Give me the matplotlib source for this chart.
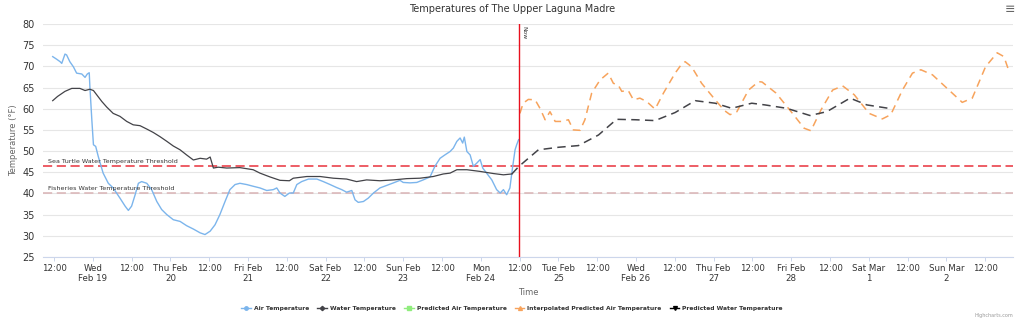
import numpy as np
import matplotlib
matplotlib.use("Agg")
import matplotlib.pyplot as plt
from matplotlib.lines import Line2D

plt.rcParams['font.family'] = ['DejaVu Sans']

start = np.datetime64("2025-02-18T00:00")

# hours after Feb 18 00:00, temperatures in °F
air_hours = [11.6, 12.8, 13.9, 14.4, 15.4, 15.9, 16.9, 18.0, 19.0, 20.6, 21.6, 22.3, 22.9, 23.1,
             23.7, 24.2, 24.9, 25.7, 27.2, 28.8, 30.3, 32.4, 34.0, 35.0, 36.0, 37.1, 38.1, 39.1,
             40.7, 42.2, 43.8, 45.3, 46.9, 48.9, 51.0, 53.0, 55.1, 57.2, 58.7, 60.3, 61.8, 63.3,
             64.9, 66.4, 68.0, 69.5, 71.6, 73.6, 75.7, 77.8, 79.8, 80.9, 81.9, 83.4, 84.8, 86.0,
             87.1, 88.6, 90.7, 93.3, 95.3, 97.4, 99.4, 101.0, 102.5, 104.1, 105.1, 106.1, 107.7,
             109.2, 110.8, 112.8, 114.9, 117.0, 119.0, 120.0, 122.1, 124.2, 126.2, 128.3, 129.8,
             131.4, 132.9, 134.5, 135.5, 136.6, 137.6, 138.4, 138.9, 139.7, 140.7, 141.7, 142.8,
             143.8, 144.6, 145.8, 147.4, 148.9, 150.0, 151.0, 152.0, 153.0, 153.8, 154.6, 155.1,
             155.7]
air_temp = [72.3, 71.7, 71.1, 70.7, 72.9, 72.7, 71.1, 69.9, 68.4, 68.2, 67.4, 68.2, 68.5, 65.2,
            57.4, 51.5, 51.1, 48.7, 44.8, 42.4, 41.3, 38.9, 37.0, 36.0, 37.0, 39.7, 42.4, 42.8,
            42.4, 40.9, 38.1, 36.2, 35.0, 33.8, 33.4, 32.4, 31.6, 30.7, 30.3, 31.1, 32.6, 35.0,
            38.1, 40.9, 42.1, 42.4, 42.1, 41.7, 41.3, 40.7, 40.9, 41.3, 40.1, 39.3, 40.1, 40.1,
            42.1, 42.8, 43.4, 43.4, 42.8, 42.1, 41.4, 40.9, 40.3, 40.7, 38.5, 37.9, 38.1,
            38.9, 40.1, 41.3, 41.9, 42.5, 43.1, 42.6, 42.5, 42.6, 43.2, 43.9, 46.4,
            48.3, 49.1, 49.9, 50.7, 52.3, 53.1, 51.9, 53.3, 49.9, 49.1, 46.4, 47.2,
            48.0, 46.0, 44.8, 43.2, 40.9, 40.1, 40.9, 39.7, 41.3, 46.0, 50.3, 51.5,
            52.7]

water_hours = [11.6, 13.1, 15.4, 17.5, 20.0, 21.6, 23.1, 24.2, 25.2, 26.8, 28.3, 30.3, 32.4, 34.5,
               36.5, 38.6, 40.7, 42.7, 44.8, 46.9, 48.9, 51.0, 53.0, 55.1, 57.2, 59.2, 60.3, 61.3,
               62.8, 65.4, 69.5, 73.6, 75.7, 78.8, 81.9, 84.8, 86.0, 90.2, 94.3, 98.4, 102.5,
               105.6, 108.7, 112.8, 117.0, 121.1, 125.2, 129.3, 132.4, 134.5, 136.6, 139.7,
               143.8, 147.9, 151.0, 153.6]
water_temp = [61.9, 62.9, 64.1, 64.8, 64.8, 64.3, 64.6, 64.3, 63.3, 61.7, 60.4, 58.9, 58.2, 57.0,
              56.2, 56.0, 55.2, 54.4, 53.4, 52.3, 51.2, 50.3, 49.1, 47.9, 48.3, 48.1, 48.6, 46.0,
              46.2, 46.0, 46.1, 45.6, 44.8, 43.9, 43.1, 43.0, 43.6, 44.0, 44.0, 43.6, 43.4,
              42.8, 43.2, 43.0, 43.2, 43.5, 43.6, 44.0, 44.6, 44.8, 45.6, 45.6,
              45.2, 44.7, 44.4, 44.6]

pred_water_hours = [153.6, 155.8, 161.8, 168.0, 174.2, 180.4, 186.0, 191.7, 197.9, 204.1, 210.3,
                    216.5, 221.6, 227.8, 231.9, 238.6, 245.8, 251.0, 258.2, 263.4, 270.1]
pred_water_temp = [44.6, 46.4, 50.3, 50.9, 51.3, 53.8, 57.5, 57.4, 57.2, 59.1, 61.9,
                   61.3, 60.1, 61.3, 60.9, 60.1, 58.4, 59.3, 62.5, 60.9, 60.1]

interp_air_hours = [156.1, 157.1, 158.7, 160.8, 162.3, 163.9, 165.4, 167.0, 169.0, 171.1, 172.6,
                    174.7, 176.2, 178.3, 180.9, 183.4, 185.0, 186.5, 187.6, 189.6, 191.2, 193.2,
                    195.3, 197.9, 200.5, 204.1, 205.8, 207.2, 209.2, 212.3, 216.5, 219.3, 221.1,
                    223.2, 226.8, 229.9, 231.0, 235.3, 240.4, 244.0, 246.1, 249.2, 252.8, 255.9,
                    259.5, 264.1, 268.2, 270.8, 274.4, 277.5, 280.1, 283.7, 288.8, 292.9, 296.0,
                    300.1, 303.7, 305.8, 307.2]
interp_air_temp = [58.9, 61.3, 62.2, 62.1, 60.1, 57.4, 59.3, 57.0, 57.0, 57.4, 55.0,
                   54.9, 57.4, 63.7, 66.8, 68.4, 66.0, 65.6, 64.1, 64.3, 62.1, 62.5,
                   61.7, 59.9, 63.7, 68.4, 70.2, 71.1, 69.9, 66.0, 62.1, 59.6, 58.6,
                   59.3, 64.4, 66.4, 66.3, 63.7, 58.9, 55.4, 54.8, 59.7, 64.4, 65.4,
                   63.3, 58.9, 57.6, 58.6, 64.4, 68.4, 69.2, 68.0, 64.4, 61.5, 62.5,
                   69.9, 73.2, 72.3, 69.2]

pred_air_hours = []
pred_air_temp = []

now_hours = 155.8
sea_turtle = 46.4
fisheries = 40.0

tick_labels = ["12:00", "Wed\nFeb 19", "12:00", "Thu Feb\n20", "12:00", "Fri Feb\n21", "12:00",
               "Sat Feb\n22", "12:00", "Sun Feb\n23", "12:00", "Mon\nFeb 24", "12:00",
               "Tue Feb\n25", "12:00", "Wed\nFeb 26", "12:00", "Thu Feb\n27", "12:00",
               "Fri Feb\n28", "12:00", "Sat Mar\n1", "12:00", "Sun Mar\n2", "12:00"]


def to_time(hours):
    mins = np.round(np.asarray(hours, dtype=float) * 60).astype(int)
    return start + mins.astype("timedelta64[m]")


fig = plt.figure(figsize=(10.24, 3.22), dpi=100)
ax = fig.add_axes([43 / 1024, 1 - 257 / 322, 970 / 1024, 233 / 322])

blue, dark, orange, green = "#7cb5ec", "#434348", "#f7a35c", "#90ed7d"

ax.plot(to_time(air_hours), air_temp, color=blue, lw=1.0, zorder=3)
ax.plot(to_time(water_hours), water_temp, color=dark, lw=0.9, zorder=3)
ax.plot(to_time(pred_air_hours), pred_air_temp, color=green, lw=1.0)
ax.plot(to_time(interp_air_hours), interp_air_temp, color=orange, lw=1.1,
        dashes=(5, 3.5), zorder=3)
ax.plot(to_time(pred_water_hours), pred_water_temp, color=dark, lw=1.1,
        dashes=(5.5, 3.5), zorder=3)

ax.axhline(sea_turtle, color="#e8323c", lw=1.1, dashes=(6, 3), zorder=2)
ax.axhline(fisheries, color="#d9b3b5", lw=1.1, dashes=(6, 3), zorder=2)
t0 = to_time([10.2])[0]
ax.text(t0, sea_turtle + 0.5, "Sea Turtle Water Temperature Threshold", fontsize=4.6,
        color="#333333", va="bottom", ha="left")
ax.text(t0, fisheries + 0.5, "Fisheries Water Temperature Threshold", fontsize=4.6,
        color="#333333", va="bottom", ha="left")

now_t = to_time([now_hours])[0]
ax.axvline(now_t, color="#e8101e", lw=1.0, zorder=4)
ax.text(to_time([now_hours + 0.6])[0], 79.5, "Now", rotation=-90, fontsize=4.3,
        color="#333333", va="top", ha="left")

ax.set_xlim(to_time([8.6])[0], to_time([308.6])[0])
ax.set_ylim(25, 80)
ax.set_yticks(range(25, 81, 5))
ax.set_xticks(to_time(range(12, 301, 12)))
ax.set_xticklabels(tick_labels)
ax.tick_params(axis="x", labelsize=6.2, colors="#333333", length=3, width=0.7, pad=2,
               color="#ccd6eb")
ax.tick_params(axis="y", labelsize=7, colors="#333333", length=0, pad=6)
ax.grid(axis="y", color="#e6e6e6", lw=0.8)
ax.set_axisbelow(True)
for s in ["top", "right", "left"]:
    ax.spines[s].set_visible(False)
ax.spines["bottom"].set_color("#ccd6eb")
ax.spines["bottom"].set_linewidth(0.8)

ax.set_ylabel("Temperature (°F)", fontsize=6, color="#666666", labelpad=3)
ax.set_xlabel("Time", fontsize=6, color="#666666", labelpad=3)

fig.text(0.5, 1 - 9 / 322, "Temperatures of The Upper Laguna Madre", ha="center",
         va="center", fontsize=7, color="#333333")
fig.text(1010 / 1024, 1 - 10 / 322, "≡", ha="center", va="center", fontsize=9,
         color="#666666")
fig.text(1013 / 1024, 1 - 316 / 322, "Highcharts.com", ha="right", va="center",
         fontsize=3.5, color="#999999")

handles = [
    Line2D([], [], color=blue, lw=1, marker="o", ms=2.5),
    Line2D([], [], color=dark, lw=1, marker="D", ms=2.2),
    Line2D([], [], color=green, lw=1, marker="s", ms=2.5),
    Line2D([], [], color=orange, lw=1, marker="^", ms=2.8),
    Line2D([], [], color="black", lw=1, marker="v", ms=2.8),
]
labels = ["Air Temperature", "Water Temperature", "Predicted Air Temperature",
          "Interpolated Predicted Air Temperature", "Predicted Water Temperature"]
fig.legend(handles, labels, loc="center", bbox_to_anchor=(0.5, 1 - 308 / 322), ncol=5,
           frameon=False, prop={"size": 4.3, "weight": "bold"}, handlelength=1.6,
           handletextpad=0.5, columnspacing=1.4, labelcolor="#333333")

fig.savefig("out.png", dpi=100)
